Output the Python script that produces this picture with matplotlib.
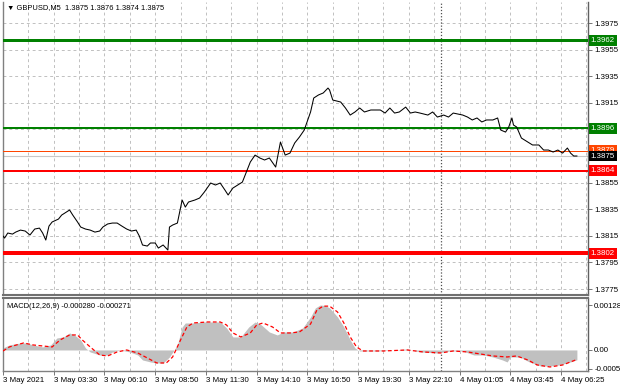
import matplotlib
matplotlib.use("Agg")
import matplotlib.pyplot as plt
from matplotlib.transforms import blended_transform_factory

# ---- data (bar index = 5-minute bars from 3 May 2021 00:00) ----
price_bars = [0, 1, 3, 6, 8, 11, 14, 17, 20, 23, 25, 27, 29, 31, 35, 37, 39, 41, 42, 44,
              47, 49, 52, 55, 58, 61, 63, 66, 69, 72, 75, 78, 81, 84, 86, 88, 91, 93, 96, 98,
              101, 104, 105, 107, 110, 113, 115, 117, 121, 124, 127, 131, 134, 137, 140, 142, 145, 150, 151, 154,
              156, 159, 162, 165, 168, 172, 175, 178, 181, 184, 187, 190, 194, 196, 199, 202, 205, 206, 208, 213,
              216, 219, 222, 225, 228, 232, 235, 238, 241, 244, 247, 250, 254, 257, 260, 263, 268, 271, 274, 278,
              281, 284, 290, 293, 296, 299, 302, 305, 309, 312, 314, 317, 319, 321, 322, 324, 327, 331, 334, 338,
              341, 344, 347, 350, 353, 356, 358, 360, 362]
close = [1.38148, 1.38133, 1.38171, 1.38163, 1.38178, 1.38193, 1.38186, 1.38156, 1.38201, 1.38208,
         1.38171, 1.38118, 1.38223, 1.38254, 1.38276, 1.38306, 1.38321, 1.38336, 1.38344, 1.38306,
         1.38254, 1.38216, 1.38201, 1.38193, 1.38178, 1.38186, 1.38216, 1.38239, 1.38246, 1.38246,
         1.38223, 1.38201, 1.38186, 1.38193, 1.38148, 1.38081, 1.38073, 1.38096, 1.38096, 1.38058,
         1.38081, 1.38043, 1.38216, 1.38231, 1.38246, 1.38419, 1.38366, 1.38404, 1.38419, 1.38434,
         1.38479, 1.38547, 1.38532, 1.38547, 1.38494, 1.38457, 1.38509, 1.38547, 1.38554, 1.38645,
         1.38705, 1.38757, 1.38735, 1.38720, 1.38735, 1.38667, 1.38855, 1.38757, 1.38772, 1.38848,
         1.38893, 1.38945, 1.39081, 1.39186, 1.39209, 1.39224, 1.39261, 1.39246, 1.39171, 1.39156,
         1.39111, 1.39058, 1.39081, 1.39111, 1.39081, 1.39096, 1.39096, 1.39096, 1.39073, 1.39111,
         1.39073, 1.39081, 1.39118, 1.39073, 1.39081, 1.39073, 1.39058, 1.39081, 1.39043, 1.39058,
         1.39043, 1.39073, 1.39058, 1.39043, 1.39021, 1.39036, 1.39006, 1.39021, 1.39021, 1.39036,
         1.38945, 1.38930, 1.38968, 1.39036, 1.38983, 1.38968, 1.38885, 1.38855, 1.38833, 1.38833,
         1.38795, 1.38795, 1.38780, 1.38795, 1.38772, 1.38810, 1.38772, 1.38750, 1.38750]

hist_bars = [0, 4, 11, 15, 19, 25, 30, 34, 38, 42, 45, 49, 52, 55, 61, 66, 69, 74, 80, 85,
             88, 93, 97, 101, 105, 110, 113, 115, 120, 126, 132, 137, 141, 145, 150, 155, 159, 163, 168, 173,
             177, 183, 189, 194, 197, 200, 203, 206, 211, 215, 219, 222, 225, 236, 246, 255, 263, 274, 282, 290,
             297, 303, 309, 315, 318, 320, 326, 332, 339, 345, 351, 358, 362]
macd_hist = [0.000057, 0.000143, 0.000200, 0.000200, 0.000143, 0.000086, 0.000143, 0.000342, 0.000371, 0.000485,
             0.000428, 0.000285, 0.000057, -0.000057, -0.000143, -0.000143, -0.000057, 0.0, -0.000057, -0.000143,
             -0.000285, -0.000342, -0.000371, -0.000371, -0.000200, 0.000143, 0.000656, 0.000770, 0.000770, 0.000798,
             0.000798, 0.000798, 0.000627, 0.000371, 0.000371, 0.000656, 0.000798, 0.000713, 0.000513, 0.000428,
             0.000513, 0.000513, 0.000627, 0.000941, 0.001197, 0.001281, 0.001270, 0.001200, 0.000941, 0.000656,
             0.000285, 0.000057, -0.000029, -0.000029, 0.0, 0.000029, -0.000057, -0.000086, -0.000029, -0.000029,
             -0.000143, -0.000143, -0.000200, -0.000285, -0.000342, -0.000200, -0.000200, -0.000342, -0.000456, -0.000456,
             -0.000428, -0.000342, -0.000280]

signal_bars = [0, 4, 13, 19, 25, 31, 36, 42, 47, 50, 55, 61, 66, 72, 78, 85, 91, 97, 103, 107,
               112, 116, 120, 129, 137, 141, 145, 150, 156, 160, 164, 170, 175, 181, 187, 194, 198, 202, 206, 211,
               215, 219, 223, 227, 240, 255, 265, 276, 284, 293, 301, 309, 318, 324, 331, 337, 345, 353, 362]
macd_signal = [-0.000030, 0.000086, 0.000200, 0.000143, 0.000114, 0.000086, 0.000285, 0.000428, 0.000428, 0.000285,
               0.000086, -0.000143, -0.000171, -0.000057, 0.0, -0.000086, -0.000228, -0.000371, -0.000371, -0.000200,
               0.000285, 0.000656, 0.000770, 0.000798, 0.000798, 0.000713, 0.000485, 0.000371, 0.000485, 0.000713,
               0.000770, 0.000656, 0.000485, 0.000485, 0.000513, 0.000741, 0.001140, 0.001250, 0.001250, 0.001083,
               0.000770, 0.000371, 0.000086, -0.000029, -0.000029, 0.0, -0.000057, -0.000086, -0.000029, -0.000057,
               -0.000114, -0.000171, -0.000200, -0.000171, -0.000285, -0.000428, -0.000485, -0.000428, -0.000271]

price_ticks = [1.3775, 1.3795, 1.3815, 1.3835, 1.3855, 1.3875, 1.3895, 1.3915, 1.3935, 1.3955, 1.3975]
# 1.3875 and 1.3895 are hidden behind the level tags in the terminal
price_tick_labels = ["1.3775", "1.3795", "1.3815", "1.3835", "1.3855", "", "", "1.3915", "1.3935", "1.3955", "1.3975"]
time_ticks = [0, 32, 64, 96, 128, 160, 192, 224, 256, 288, 320, 352]
time_labels = ["3 May 2021", "3 May 03:30", "3 May 06:10", "3 May 08:50", "3 May 11:30", "3 May 14:10",
               "3 May 16:50", "3 May 19:30", "3 May 22:10", "4 May 01:05", "4 May 03:45", "4 May 06:25"]
grid_bars = [16, 32, 48, 64, 80, 96, 112, 128, 144, 160, 176, 192, 208, 224, 240, 256, 272, 288, 304, 320, 336, 352, 368]
day_separator = 276

# horizontal levels: (price, colour, width px)
levels = [(1.3962, "#008000", 3.0), (1.3896, "#008000", 2.0), (1.3879, "#ff4500", 1.0),
          (1.3864, "#ff0000", 2.0), (1.3802, "#ff0000", 4.0)]
last_price = 1.3875
macd_ticks = [0.001281, 0.0, -0.00053]
macd_tick_labels = ["0.001281", "0.00", "-0.00053"]

plt.rcParams["font.family"] = ["Liberation Sans", "DejaVu Sans"]
FS = 5.7
PX = 0.72  # points per pixel at dpi 100
GRID = "#c0c0c0"
AXC = "#606060"

W, H = 620, 388
fig = plt.figure(figsize=(W / 100, H / 100), dpi=100)
fig.patch.set_facecolor("white")

ax = fig.add_axes([3 / W, 1 - 295 / H, 585 / W, 293 / H])
axm = fig.add_axes([3 / W, 1 - 371 / H, 585 / W, 73 / H], sharex=ax)

xmax = 369
ax.set_xlim(0, xmax)
ax.set_ylim(1.37705, 1.39908)
axm.set_ylim(-0.000600, 0.001482)

for a in (ax, axm):
    for g in grid_bars:
        a.axvline(g, color=GRID, lw=0.7, ls=(0, (3, 3)), zorder=0)
    a.axvline(day_separator, color="#505050", lw=0.9, ls=(0, (1, 1.5)), zorder=1)
    a.yaxis.tick_right()
    a.tick_params(axis="y", direction="out", length=3, width=0.6, color=AXC,
                  labelsize=FS, pad=1.5, labelcolor="black")
    for s in ("left", "top", "bottom"):
        a.spines[s].set_color("#808080")
        a.spines[s].set_linewidth(1.0)
    a.spines["right"].set_color(AXC)
    a.spines["right"].set_linewidth(1.0)

for p in price_ticks:
    ax.axhline(p, color=GRID, lw=0.7, ls=(0, (3, 3)), zorder=0)

ax.spines["top"].set_visible(False)
ax.spines["bottom"].set_color("#707070")
ax.spines["bottom"].set_linewidth(1.5)
axm.spines["top"].set_color("#707070")
axm.spines["top"].set_linewidth(1.5)

# price line and levels
ax.axhline(last_price, color="#c8c8c8", lw=0.8, zorder=2)
for p, c, w in levels:
    ax.axhline(p, color=c, lw=w * PX, zorder=3)
ax.plot(price_bars, close, color="black", lw=0.75, zorder=4)

ax.set_yticks(price_ticks)
ax.set_yticklabels(price_tick_labels)
ax.tick_params(axis="x", bottom=False, labelbottom=False)

# level tags on the right price scale
trans = blended_transform_factory(ax.transAxes, ax.transData)
tags = [(p, c) for p, c, w in levels] + [(last_price, "black")]
for p, c in tags:
    ax.text(1.0 + 2.5 / 585, p, f"{p:.4f}", transform=trans, fontsize=FS, color="white",
            va="center", ha="left", clip_on=False, zorder=10,
            bbox=dict(boxstyle="square,pad=0.25", fc=c, ec="none"))

ax.text(4 / 585, 1 - 6 / 293, "\u25bc GBPUSD,M5  1.3875 1.3876 1.3874 1.3875", transform=ax.transAxes,
        fontsize=5.4, va="center", ha="left", family=["Liberation Sans", "DejaVu Sans"])

# MACD panel
axm.fill_between(hist_bars, macd_hist, 0, color="#c0c0c0", lw=0, zorder=2)
axm.plot(signal_bars, macd_signal, color="#ff0000", lw=0.9, ls=(0, (3, 2)), zorder=3)
axm.set_yticks(macd_ticks)
axm.set_yticklabels(macd_tick_labels)
axm.text(4 / 585, 1 - 8 / 73, "MACD(12,26,9) -0.000280 -0.000271", transform=axm.transAxes,
         fontsize=5.4, va="center", ha="left")

axm.set_xticks(time_ticks)
axm.set_xticklabels(time_labels, ha="left")
axm.tick_params(axis="x", direction="out", length=3, width=0.6, color=AXC, labelsize=FS, pad=1.5)

fig.savefig("out.png", dpi=100, facecolor="white")
